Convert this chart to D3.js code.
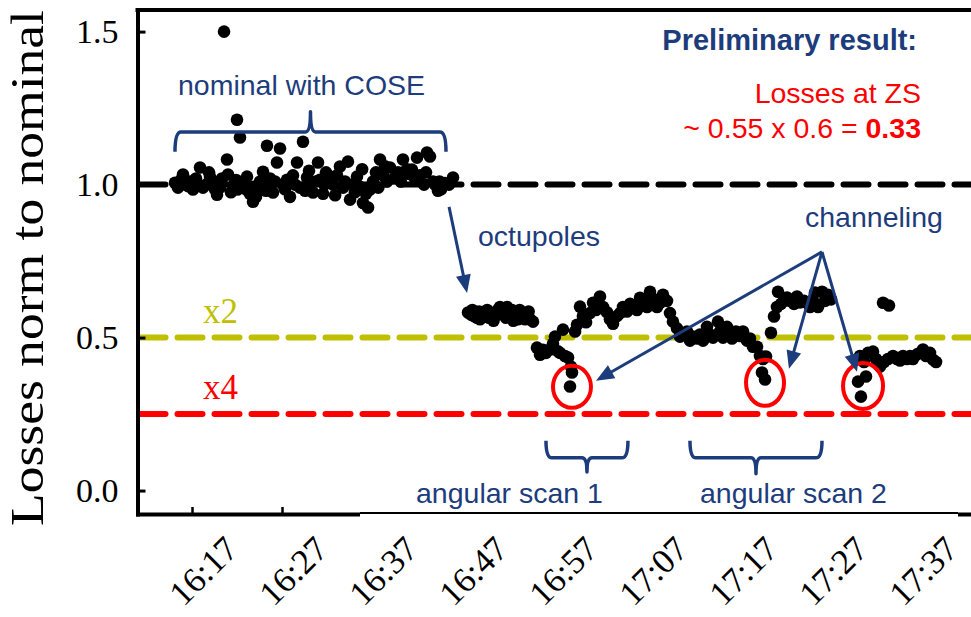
<!DOCTYPE html>
<html>
<head>
<meta charset="utf-8">
<script src="https://cdn.jsdelivr.net/npm/d3@7"></script>
<style>
  html, body { margin: 0; padding: 0; background: #fff; }
  svg { display: block; }
</style>
</head>
<body>
<svg id="chart" width="971" height="617"></svg>
<script>
// Beam losses normalised to the nominal, as [minutes after 16:00, losses] pairs.
const nominalWithCose = [
  [15.11,1.006],[15.44,0.99],[15.78,1.015],[16.0,1.033],[16.33,1.0],[16.56,0.995],[16.78,1.01],
  [17.11,0.984],[17.44,1.02],[17.67,1.0],[17.89,1.056],[18.22,0.99],[18.56,1.0],[18.89,1.04],
  [19.0,1.026],[19.33,1.01],[19.56,0.985],[19.78,0.967],[20.11,0.99],[20.33,1.02],[20.56,1.5],
  [20.89,1.082],[21.0,1.033],[21.33,0.975],[21.67,1.0],[21.9,1.015],[22.0,1.212],[22.05,0.984],
  [22.33,1.154],[22.67,1.0],[23.0,0.985],[23.11,1.026],[23.44,0.97],[23.78,0.944],[23.8,0.993],
  [24.11,0.96],[24.33,0.985],[24.56,1.01],[24.89,1.042],[25.0,1.0],[25.22,0.98],[25.33,1.127],
  [25.67,1.02],[26.0,0.974],[26.22,1.01],[26.44,1.072],[26.78,1.118],[27.11,1.0],[27.33,0.985],
  [27.56,1.016],[27.89,0.96],[28.22,1.03],[28.45,1.0],[28.67,1.072],[29.0,0.99],[29.33,1.14],
  [29.56,0.98],[29.78,1.023],[30.0,1.045],[30.11,1.0],[30.44,0.974],[30.78,1.01],[31.0,1.072],
  [31.22,1.016],[31.56,0.97],[31.7,1.0],[31.89,1.04],[32.33,1.026],[32.67,1.0],[32.9,0.965],
  [33.11,1.03],[33.44,1.059],[33.78,0.99],[34.0,1.01],[34.33,1.075],[34.56,0.951],[34.89,1.0],
  [35.1,0.975],[35.33,1.026],[35.67,0.993],[35.9,1.05],[36.0,0.94],[36.33,0.97],[36.56,0.925],
  [36.78,0.984],[37.11,1.01],[37.44,1.04],[37.7,0.99],[37.89,1.082],[38.22,1.03],[38.45,1.06],
  [38.67,1.01],[39.0,1.056],[39.44,1.02],[39.89,1.04],[40.2,1.01],[40.44,1.082],[40.89,1.05],
  [41.1,1.035],[41.44,1.049],[41.78,1.02],[42.0,1.088],[42.33,1.03],[42.78,1.0],[43.0,1.04],
  [43.11,1.105],[43.44,1.092],[43.78,1.01],[44.0,1.0],[44.33,0.98],[44.5,1.01],[44.67,0.985],
  [45.11,1.005],[45.56,1.0],[46.0,1.023]
];
const withOctupoles = [
  [47.67,0.582],[48.0,0.575],[48.15,0.59],[48.33,0.57],[48.67,0.565],[48.9,0.585],[49.0,0.56],
  [49.33,0.57],[49.67,0.575],[49.8,0.59],[50.0,0.565],[50.33,0.58],[50.5,0.555],[50.67,0.57],
  [51.0,0.59],[51.22,0.6],[51.4,0.585],[51.56,0.575],[51.89,0.565],[52.0,0.6],[52.22,0.58],
  [52.56,0.59],[52.7,0.555],[52.89,0.57],[53.22,0.56],[53.4,0.59],[53.56,0.575],[53.89,0.58],
  [54.0,0.56],[54.22,0.57],[54.4,0.585],[54.56,0.56],[54.89,0.552]
];
const angularScan1 = [
  [55.33,0.467],[55.67,0.444],[56.0,0.46],[56.33,0.45],[56.78,0.461],[57.11,0.48],[57.33,0.503],
  [57.67,0.455],[57.89,0.45],[58.22,0.526],[58.44,0.44],[58.78,0.435],[59.0,0.34],[59.11,0.405],
  [59.22,0.386],[59.56,0.52],[59.78,0.542],[60.11,0.601],[60.44,0.57],[60.78,0.55],[61.22,0.58],
  [61.56,0.614],[61.89,0.59],[62.33,0.634],[62.67,0.6],[63.11,0.583],[63.44,0.56],[63.78,0.545],
  [64.22,0.57],[64.56,0.58],[64.89,0.6]
];
const betweenScans = [
  [65.33,0.585],[65.67,0.61],[66.0,0.605],[66.44,0.59],[66.78,0.63],[67.11,0.62],[67.56,0.6],
  [67.89,0.65],[68.33,0.625],[68.67,0.6],[69.0,0.614],[69.33,0.64],[69.78,0.62],[70.11,0.58],
  [70.44,0.552],[70.89,0.53],[71.22,0.503],[71.67,0.51]
];
const angularScan2 = [
  [72.0,0.52],[72.33,0.49],[72.67,0.503],[73.11,0.497],[73.44,0.51],[73.78,0.49],[74.22,0.535],
  [74.56,0.51],[74.89,0.5],[75.44,0.552],[75.67,0.52],[76.0,0.5],[76.44,0.535],[76.78,0.51],
  [77.0,0.497],[77.44,0.52],[77.89,0.505],[78.22,0.52],[78.67,0.49],[79.0,0.497],[79.33,0.47],
  [79.78,0.47],[80.11,0.44],[80.33,0.386],[80.44,0.43],[80.67,0.363],[80.78,0.438],[81.33,0.516],
  [81.67,0.569],[82.0,0.6],[82.11,0.65],[82.44,0.61],[82.78,0.62],[83.11,0.631],[83.44,0.62],
  [83.89,0.61],[84.22,0.634],[84.56,0.615],[85.0,0.62],[85.33,0.614],[85.67,0.6],[86.0,0.62],
  [86.22,0.647],[86.56,0.6],[87.0,0.65],[87.33,0.62],[87.67,0.64],[88.0,0.625]
];
const afterScan2 = [
  [91.0,0.356],[91.22,0.44],[91.33,0.307],[91.67,0.42],[91.89,0.373],[92.11,0.45],[92.67,0.454],
  [93.0,0.43],[93.44,0.405],[93.78,0.614],[93.89,0.42],[94.33,0.43],[94.44,0.605],[94.89,0.44],
  [95.33,0.43],[95.67,0.425],[96.0,0.44],[96.44,0.43],[96.78,0.44],[97.11,0.43],[97.56,0.445],
  [97.89,0.45],[98.22,0.461],[98.56,0.44],[99.0,0.45],[99.33,0.428],[99.67,0.42]
];

const yTickValues = [0.0, 0.5, 1.0, 1.5];
const timeTickLabels = ["16:17","16:27","16:37","16:47","16:57","17:07","17:17","17:27","17:37"];

// Reference levels: nominal, factor 2 and factor 4 reduction
const referenceLevels = [1.0, 0.5, 0.25];
const referenceNames = ["", "x2", "x4"];

// Channeling dips (centre minute, losses) and arrow targets
const channelingSpots = [[59.22, 0.339], [80.67, 0.352], [91.56, 0.342]];
const channelingArrowTips = [[61.89, 0.359], [83.33, 0.398], [90.89, 0.388]];

// ---------------------------------------------------------------------------
const W = 971, H = 617;
const frame = { left: 137.5, top: 10, bottom: 514, right: 971 };
const BLUE = "#1d3c7c", RED = "#ff0000", OLIVE = "#bfbf00";
const levelColors = ["#000000", OLIVE, RED];
const SERIF = "'Liberation Serif', 'Times New Roman', serif";
const SANS = "'Liberation Sans', Arial, Helvetica, sans-serif";

const toMinutes = s => { const [h, m] = s.split(":").map(Number); return (h - 16) * 60 + m; };

const x = d3.scaleLinear().domain([10.944, 103.556]).range([frame.left, frame.right]);
const y = d3.scaleLinear().domain([-0.0766, 1.5706]).range([frame.bottom, frame.top]);

const svg = d3.select("#chart");
svg.append("rect").attr("width", W).attr("height", H).attr("fill", "#fff");

// Reference dashed lines
const levels = svg.append("g");
referenceLevels.forEach((v, i) => {
  levels.append("line")
    .attr("x1", frame.left + 3).attr("x2", frame.right + 20)
    .attr("y1", y(v)).attr("y2", y(v))
    .attr("stroke", levelColors[i]).attr("stroke-width", 6)
    .attr("stroke-linecap", "round").attr("stroke-dasharray", "25,12");
  if (referenceNames[i]) {
    levels.append("text")
      .attr("x", 203).attr("y", y(v) - 15)
      .attr("font-family", SERIF).attr("font-size", 35)
      .attr("fill", levelColors[i]).text(referenceNames[i]);
  }
});

// Measurement points
const allPoints = [].concat(nominalWithCose, withOctupoles, angularScan1, betweenScans, angularScan2, afterScan2);
svg.append("g").selectAll("circle").data(allPoints).join("circle")
  .attr("cx", d => x(d[0])).attr("cy", d => y(d[1])).attr("r", 6.3).attr("fill", "#000");

// Axes
const yAxis = d3.axisLeft(y).tickValues(yTickValues).tickSizeInner(-8).tickSizeOuter(0)
  .tickPadding(19).tickFormat(d3.format(".1f"));
const gy = svg.append("g").attr("transform", `translate(${frame.left},0)`).call(yAxis);
gy.select(".domain").attr("stroke-width", 4).attr("stroke-linecap", "square");
gy.selectAll(".tick line").attr("stroke-width", 3);
gy.selectAll(".tick text").attr("font-family", SERIF).attr("font-size", 34).attr("fill", "#000");

const tickMinutes = timeTickLabels.map(toMinutes);
const xAxis = d3.axisBottom(x).tickValues(tickMinutes).tickSizeInner(-7).tickSizeOuter(0).tickFormat("");
const gx = svg.append("g").attr("transform", `translate(0,${frame.bottom})`).call(xAxis);
gx.select(".domain").attr("stroke-width", 4).attr("stroke-linecap", "square");
gx.selectAll(".tick line").attr("stroke-width", 2.5);

svg.append("line").attr("x1", frame.left).attr("x2", frame.right)
  .attr("y1", frame.top).attr("y2", frame.top).attr("stroke", "#000").attr("stroke-width", 4)
  .attr("stroke-linecap", "square");

// Annotation panel under the angular-scan labels (sits over the lower axis)
svg.append("rect").attr("x", 360).attr("y", 504).attr("width", 598).attr("height", 14).attr("fill", "#fff");
svg.append("line").attr("x1", 360).attr("x2", 958).attr("y1", 513).attr("y2", 513)
  .attr("stroke", "#000").attr("stroke-width", 2);

// Slanted time labels
const labels = svg.append("g");
tickMinutes.forEach((m, i) => {
  labels.append("text")
    .attr("transform", `translate(${x(m) + 48},551) rotate(-45)`)
    .attr("text-anchor", "end").attr("font-family", SERIF).attr("font-size", 35)
    .text(timeTickLabels[i]);
});

// Y title
svg.append("text")
  .attr("transform", "translate(43,526) rotate(-90)")
  .attr("font-family", SERIF).attr("font-size", 46)
  .attr("textLength", 516).attr("lengthAdjust", "spacingAndGlyphs")
  .text("Losses norm to nominal");

// Braces
const ann = svg.append("g");
function brace(m0, m1, vEnd, vBar, vTip) {
  const x0 = x(m0), x1 = x(m1), xm = (x0 + x1) / 2;
  const ye = y(vEnd), yb = y(vBar), yt = y(vTip);
  const r = 6, s = 5;
  return `M${x0},${ye} Q${x0},${yb} ${x0 + r},${yb} L${xm - s},${yb} Q${xm},${yb} ${xm},${yt}` +
         ` Q${xm},${yb} ${xm + s},${yb} L${x1 - r},${yb} Q${x1},${yb} ${x1},${ye}`;
}
[[15.11, 45.22, 1.107, 1.172, 1.238],
 [56.33, 65.44, 0.163, 0.107, 0.061],
 [72.33, 87.0, 0.163, 0.107, 0.055]].forEach(b => {
  ann.append("path").attr("d", brace(...b)).attr("fill", "none")
    .attr("stroke", BLUE).attr("stroke-width", 3.5).attr("stroke-linejoin", "round");
});

// Channeling ellipses
channelingSpots.forEach(([m, v], i) => {
  ann.append("ellipse").attr("cx", x(m)).attr("cy", y(v))
    .attr("rx", [19, 19, 20][i]).attr("ry", [21, 23, 23][i])
    .attr("fill", "none").attr("stroke", RED).attr("stroke-width", 4);
});

// Arrows
function arrow(from, to) {
  const ax = x(from[0]), ay = y(from[1]), bx = x(to[0]), by = y(to[1]);
  const len = Math.hypot(bx - ax, by - ay), ux = (bx - ax) / len, uy = (by - ay) / len;
  const hl = 18, hw = 7.5;
  const cx = bx - ux * hl, cy = by - uy * hl;
  ann.append("line").attr("x1", ax).attr("y1", ay).attr("x2", cx + ux * 2).attr("y2", cy + uy * 2)
    .attr("stroke", BLUE).attr("stroke-width", 3);
  ann.append("path")
    .attr("d", `M${bx},${by} L${cx - uy * hw},${cy + ux * hw} L${cx + uy * hw},${cy - ux * hw} Z`)
    .attr("fill", BLUE);
}
arrow([45.56, 0.927], [47.56, 0.646]);
channelingArrowTips.forEach(t => arrow([87.0, 0.780], t));

// Text annotations
const note = (t, px, py, opts = {}) => ann.append("text").attr("x", px).attr("y", py)
  .attr("font-family", SANS).attr("font-size", opts.size || 28.5)
  .attr("font-weight", opts.bold ? "bold" : null)
  .attr("text-anchor", opts.anchor || "start").attr("fill", opts.color || BLUE).text(t);
note("nominal with COSE", 178, 95);
note("octupoles", 478, 246);
note("channeling", 805, 227);
note("angular scan 1", 416, 503);
note("angular scan 2", 700, 503);
note("Preliminary result:", 917, 50, { bold: true, anchor: "end", size: 29 });
note("Losses at ZS", 921, 103, { anchor: "end", color: RED });
const res = note("~ 0.55 x 0.6 = ", 921, 138, { anchor: "end", color: RED });
res.append("tspan").attr("font-weight", "bold").text("0.33");
</script>
</body>
</html>
